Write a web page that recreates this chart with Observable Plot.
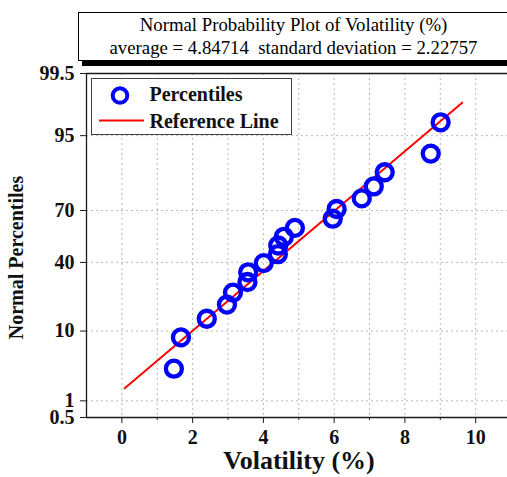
<!DOCTYPE html>
<html>
<head>
<meta charset="utf-8">
<script src="https://cdn.jsdelivr.net/npm/d3@7"></script>
<script src="https://cdn.jsdelivr.net/npm/@observablehq/plot@0.6"></script>
<style>
  html, body { margin: 0; padding: 0; background: #fff; }
  #wrap { position: relative; width: 507px; height: 477px; overflow: hidden; background: #fff; }
  #title { position: absolute; left: 78px; top: 12px; width: 460px; height: 47px;
           border: 1px solid #000; box-shadow: 4px 5px 0 #000; background: #fff;
           font-family: "Liberation Serif", serif; font-size: 18.8px; line-height: 23px; color: #000; }
  #title .inner { width: 429px; text-align: center; white-space: pre; }
  #chart { position: absolute; left: 0; top: 66px; }
  #legend { position: absolute; left: 91px; top: 78px; width: 199px; height: 55px;
            border: 1px solid #444; background: #fff; }
</style>
</head>
<body>
<div id="wrap">
  <div id="title"><div class="inner">Normal Probability Plot of Volatility (%)
average = 4.84714  standard deviation = 2.22757</div></div>
  <div id="chart"></div>
  <div id="legend"></div>
</div>
<script>
// ---- data ----
const volatility = [1.47, 1.67, 2.40, 2.97, 3.14, 3.55, 3.57, 4.01, 4.41, 4.42, 4.58, 4.89, 5.96, 6.07, 6.78, 7.12, 7.43, 8.73, 9.01];
const percentile = [3.25, 8.44, 13.64, 18.83, 24.03, 29.22, 34.42, 39.61, 44.81, 50.0, 55.19, 60.39, 65.58, 70.78, 75.97, 81.17, 86.36, 91.56, 96.75];
const refLineX = [0.08, 9.62];
const refLineP = [1.62, 98.38];
const yTickValues = [0.5, 1, 10, 40, 70, 95, 99.5];
const yTickLabels = ["0.5", "1", "10", "40", "70", "95", "99.5"];
const yGridValues = [1, 10, 40, 70, 95];
const xTickValues = [0, 2, 4, 6, 8, 10];
const xMinorValues = [1, 3, 5, 7, 9];
const xGridValues = [0, 1, 2, 3, 4, 5, 6, 7, 8, 9, 10];
const seriesNames = ["Percentiles", "Reference Line"];

// inverse normal CDF (Acklam) for the normal-probability scale
function probit(p) {
  const a=[-3.969683028665376e+01,2.209460984245205e+02,-2.759285104469687e+02,1.383577518672690e+02,-3.066479806614716e+01,2.506628277459239e+00];
  const b=[-5.447609879822406e+01,1.615858368580409e+02,-1.556989798598866e+02,6.680131188771972e+01,-1.328068155288572e+01];
  const c=[-7.784894002430293e-03,-3.223964580411365e-01,-2.400758277161838e+00,-2.549671464830100e+00,4.374664141464968e+00,2.938163982698783e+00];
  const d=[7.784695709041462e-03,3.224671290700398e-01,2.445134137142996e+00,3.754408661907416e+00];
  const pl = 0.02425, ph = 1 - pl;
  let q, r;
  if (p < pl) { q = Math.sqrt(-2*Math.log(p)); return (((((c[0]*q+c[1])*q+c[2])*q+c[3])*q+c[4])*q+c[5])/((((d[0]*q+d[1])*q+d[2])*q+d[3])*q+1); }
  if (p <= ph) { q = p - 0.5; r = q*q; return (((((a[0]*r+a[1])*r+a[2])*r+a[3])*r+a[4])*r+a[5])*q/(((((b[0]*r+b[1])*r+b[2])*r+b[3])*r+b[4])*r+1); }
  q = Math.sqrt(-2*Math.log(1-p)); return -(((((c[0]*q+c[1])*q+c[2])*q+c[3])*q+c[4])*q+c[5])/((((d[0]*q+d[1])*q+d[2])*q+d[3])*q+1);
}
const z = pct => probit(pct / 100);

const points = volatility.map((v, i) => ({x: v, p: percentile[i]}));
const refLine = refLineX.map((v, i) => ({x: v, p: refLineP[i]}));
const yTickZ = yTickValues.map(z);
const labelFor = t => { const i = yTickZ.findIndex(q => Math.abs(q - t) < 1e-9); return i >= 0 ? yTickLabels[i] : ""; };
const yLo = z(yTickValues[0]), yHi = z(yTickValues[yTickValues.length - 1]);
const xLo = -1, xHi = 10.9;

const grid = {stroke: "#b8b8b8", strokeOpacity: 1, strokeWidth: 1, strokeDasharray: "2,3"};
const axisStroke = "#1a1a1a";

const chart = Plot.plot({
  width: 507,
  height: 411,
  marginTop: 7,
  marginBottom: 60,
  marginLeft: 86,
  marginRight: 0,
  style: {fontFamily: "'Liberation Serif', serif", fontSize: "20px", fontWeight: "bold", color: "#111", background: "transparent", overflow: "visible"},
  x: {domain: [xLo, xHi]},
  y: {domain: [yLo, yHi]},
  marks: [
    Plot.gridX(xGridValues, grid),
    Plot.gridY(yGridValues.map(z), grid),
    Plot.axisX(xMinorValues, {tickSize: 3, tickFormat: () => "", stroke: axisStroke, label: null}),
    Plot.axisX(xTickValues, {tickSize: 6, tickPadding: 6, stroke: axisStroke, fill: "#111", fontSize: 20, fontWeight: "bold", label: null}),
    Plot.axisY(yTickZ, {tickSize: 6, tickPadding: 6, tickFormat: labelFor, stroke: axisStroke, fill: "#111", fontSize: 20, fontWeight: "bold", label: null}),
    Plot.ruleX([xLo], {stroke: axisStroke, strokeWidth: 1.3}),
    Plot.ruleY([yLo], {stroke: axisStroke, strokeWidth: 1.3}),
    Plot.ruleY([yHi], {stroke: axisStroke, strokeWidth: 1.3}),
    Plot.line(refLine, {x: "x", y: d => z(d.p), stroke: "#ff0000", strokeWidth: 2}),
    Plot.dot(points, {x: "x", y: d => z(d.p), r: 8, stroke: "#0000ff", strokeWidth: 4.3, fill: "none"}),
    Plot.text(["Volatility (%)"], {frameAnchor: "bottom", textAnchor: "middle", lineAnchor: "bottom", dx: 2, dy: 51, fontSize: 26, fontWeight: "bold", fill: "#111"}),
    Plot.text(["Normal Percentiles"], {frameAnchor: "left", textAnchor: "middle", lineAnchor: "bottom", rotate: -90, dx: -64, dy: 12, fontSize: 20, fontWeight: "bold", fill: "#111"})
  ]
});
document.getElementById("chart").appendChild(chart);

// legend
const lg = d3.select("#legend").append("svg").attr("width", 199).attr("height", 55)
  .style("display", "block");
lg.append("circle").attr("cx", 28).attr("cy", 16.5).attr("r", 7.3)
  .attr("fill", "none").attr("stroke", "#0000ff").attr("stroke-width", 4);
lg.append("line").attr("x1", 7).attr("x2", 52).attr("y1", 41.5).attr("y2", 41.5)
  .attr("stroke", "#ff0000").attr("stroke-width", 2);
lg.selectAll("text").data(seriesNames).join("text")
  .attr("x", 57.5).attr("y", (d, i) => i ? 48.5 : 22)
  .attr("font-family", "'Liberation Serif', serif").attr("font-size", 20).attr("font-weight", "bold")
  .attr("fill", "#111").text(d => d);
</script>
</body>
</html>
